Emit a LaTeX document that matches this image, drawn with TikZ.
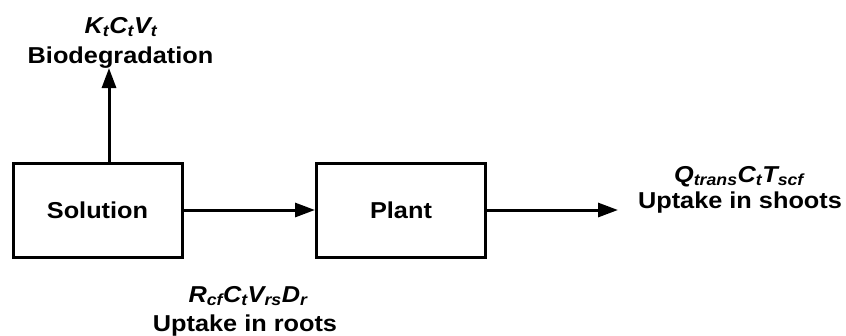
\documentclass[tikz,border=0pt]{standalone}
\usepackage{fontspec}
\setmainfont{Liberation Sans}[FakeStretch=1.1]
\usetikzlibrary{arrows.meta}
\newcommand{\sbs}[1]{\textsubscript{#1}}
\begin{document}
\begin{tikzpicture}[x=1pt,y=-1pt,
  box/.style={draw, line width=3pt, minimum width=169pt, minimum height=94pt,
    inner sep=0pt, font=\fontsize{23}{27}\selectfont\bfseries},
  flow/.style={line width=3pt, -{Triangle[length=20pt,width=14pt]}},
  lbl/.style={inner sep=0pt, anchor=base, font=\fontsize{23}{27}\selectfont\bfseries},
  rate/.style={lbl, font=\fontsize{23}{27}\selectfont\bfseries\itshape}]
\useasboundingbox (0,0) rectangle (846,335);

% compartments
\node[box] (sol) at (97.5,210) {Solution};
\node[box] (plant) at (401,210) {Plant};

% loss by biodegradation
\node[rate] (kcv) at (121,33) {K\sbs{t}C\sbs{t}V\sbs{t}};
\node[lbl] (biotxt) at (120.5,63) {Biodegradation};
\coordinate (biotip) at (109,68);
\draw[flow] (sol.north -| biotip) -- (biotip);

% root uptake
\draw[flow] (sol.east) -- (plant.west);
\node[rate] (rcf) at (248,302) {R\sbs{cf}C\sbs{t}V\sbs{rs}D\sbs{r}};
\node[lbl] (roottxt) at (245,331) {Uptake in roots};

% transfer to shoots
\coordinate (shoottip) at (618,210);
\draw[flow] (plant.east) -- (shoottip);
\node[rate] (qct) at (739,182) {Q\sbs{trans}C\sbs{t}T\sbs{scf}};
\node[lbl] (shoottxt) at (740,208) {Uptake in shoots};
\end{tikzpicture}
\end{document}
